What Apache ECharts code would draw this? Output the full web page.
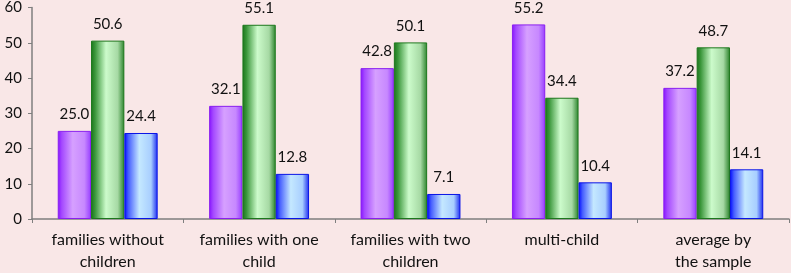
<!DOCTYPE html>
<html><head><meta charset="utf-8">
<script src="https://cdn.jsdelivr.net/npm/echarts@6/dist/echarts.min.js"></script>
<style>html,body{margin:0;padding:0;background:#F9E7E7;}#c{width:791px;height:273px;}</style>
</head><body><div id="c"></div>
<script>
const categories = ["families without\nchildren", "families with one\nchild", "families with two\nchildren", "multi-child", "average by\nthe sample"];
const seriesA = [25.0, 32.1, 42.8, 55.2, 37.2];
const seriesB = [50.6, 55.1, 50.1, 34.4, 48.7];
const seriesC = [24.4, 12.8, 7.1, 10.4, 14.1];
const yTicks = [0, 10, 20, 30, 40, 50, 60];

function grad(stops){
  return new echarts.graphic.LinearGradient(0,0,1,0, stops.map(s=>({offset:s[0], color:s[1]})));
}
const styles = [
  {color: grad([[0,'#8512FF'],[0.12,'#A448FF'],[0.45,'#D6A0FF'],[0.8,'#C788FF'],[1,'#963CFF']]), borderColor:'#8A1FF0'},
  {color: grad([[0,'#1B741B'],[0.12,'#3A963A'],[0.45,'#CCFBCB'],[0.8,'#A6D9A4'],[1,'#2A822A']]), borderColor:'#1C781C'},
  {color: grad([[0,'#0008FF'],[0.12,'#465EFF'],[0.45,'#C4E8FF'],[0.8,'#A8CEFF'],[1,'#1A2AF0']]), borderColor:'#0A14E6'}
];
const font = 'Lato, "Open Sans", sans-serif';
function mk(data, i){
  return {type:'bar', data, barGap:'0%', barCategoryGap:'34%',
    itemStyle:{color:styles[i].color, borderColor:styles[i].borderColor, borderWidth:1},
    label:{show:true, position:'top', distance:9, fontSize:15, color:'#111', fontFamily:font, formatter:p=>p.value.toFixed(1)}};
}
const chart = echarts.init(document.getElementById('c'));
chart.setOption({
  animation:false,
  backgroundColor:'#F9E7E7',
  grid:{left:32, right:2, top:7, bottom:51, containLabel:false},
  xAxis:{type:'category', data:categories,
    axisLine:{lineStyle:{color:'#7f7f7f', width:1.5}},
    axisTick:{show:true, length:4, lineStyle:{color:'#7f7f7f'}},
    axisLabel:{fontSize:16, color:'#111', fontFamily:font, lineHeight:22, margin:10, interval:0}},
  yAxis:{type:'value', min:yTicks[0], max:yTicks[yTicks.length-1], interval:10,
    splitLine:{show:false},
    axisLine:{show:true, lineStyle:{color:'#7f7f7f', width:1.5}},
    axisTick:{show:true, length:4, lineStyle:{color:'#7f7f7f'}},
    axisLabel:{fontSize:15, color:'#111', fontFamily:font, margin:10}},
  series:[mk(seriesA,0), mk(seriesB,1), mk(seriesC,2)]
});
</script></body></html>
